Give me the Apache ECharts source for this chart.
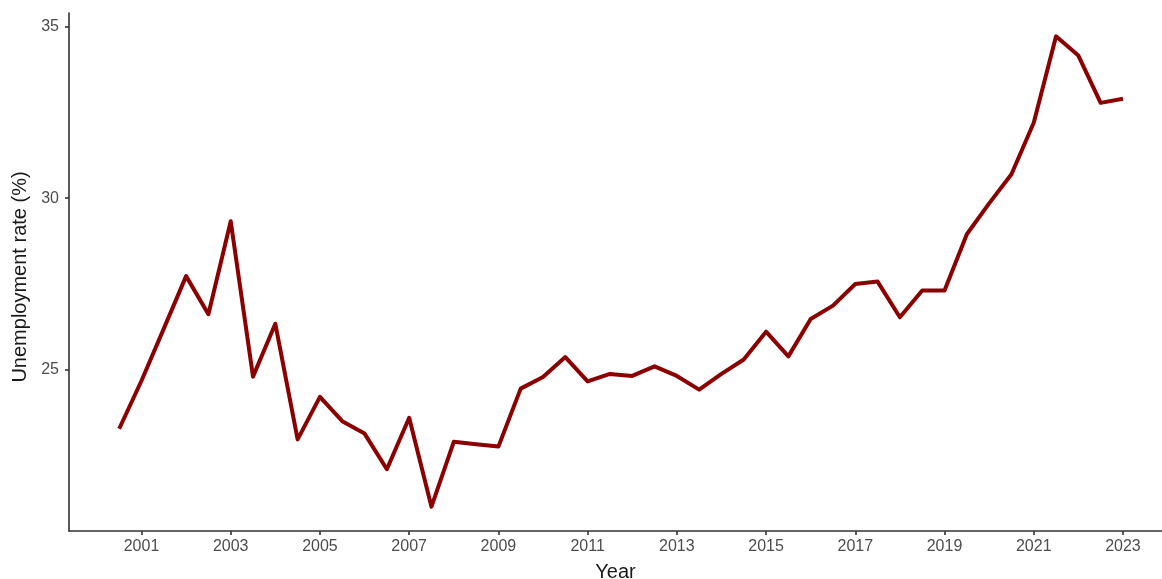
<!DOCTYPE html>
<html>
<head>
<meta charset="utf-8">
<script src="https://cdn.jsdelivr.net/npm/echarts@6/dist/echarts.min.js"></script>
<style>
html,body{margin:0;padding:0;background:#fff;overflow:hidden;}
#chart{width:1162px;height:579px;}
</style>
</head>
<body>
<div id="chart"></div>
<script>
const years = [2000.5,2001,2001.5,2002,2002.5,2003,2003.5,2004,2004.5,2005,2005.5,2006,2006.5,2007,2007.5,2008,2008.5,2009,2009.5,2010,2010.5,2011,2011.5,2012,2012.5,2013,2013.5,2014,2014.5,2015,2015.5,2016,2016.5,2017,2017.5,2018,2018.5,2019,2019.5,2020,2020.5,2021,2021.5,2022,2022.5,2023];
const rates = [23.28,24.68,26.2,27.73,26.62,29.33,24.8,26.34,22.97,24.21,23.5,23.14,22.1,23.6,21.01,22.9,22.83,22.76,24.45,24.79,25.37,24.66,24.88,24.82,25.1,24.82,24.42,24.88,25.3,26.11,25.39,26.48,26.87,27.5,27.57,26.53,27.31,27.31,28.95,29.85,30.7,32.2,34.72,34.16,32.78,32.9];
const xTicks = [2001,2003,2005,2007,2009,2011,2013,2015,2017,2019,2021,2023];
const yTicks = [25,30,35];

const chart = echarts.init(document.getElementById('chart'), null, {renderer:'canvas'});
const axisLineStyle = {color:'#333333', width:1.6};
chart.setOption({
  animation:false,
  backgroundColor:'#ffffff',
  grid:{left:69, right:0, top:13, bottom:48, containLabel:false, outerBoundsMode:'none'},
  xAxis:{
    type:'value', min:1999.375, max:2023.875,
    name:'Year', nameLocation:'middle', nameGap:31,
    nameTextStyle:{fontFamily:'Liberation Sans', fontSize:20, color:'#1a1a1a'},
    axisLine:{show:true, lineStyle:axisLineStyle},
    axisTick:{show:true, length:4, lineStyle:axisLineStyle, customValues:xTicks},
    axisLabel:{fontFamily:'Liberation Sans', fontSize:16, color:'#4d4d4d', margin:8, customValues:xTicks, formatter: v => String(v)},
    splitLine:{show:false}
  },
  yAxis:{
    type:'value', min:20.3, max:35.4,
    name:'Unemployment rate (%)', nameLocation:'middle', nameGap:34,
    nameTextStyle:{fontFamily:'Liberation Sans', fontSize:20, color:'#1a1a1a', padding:[0,10,0,0]},
    axisLine:{show:true, lineStyle:axisLineStyle},
    axisTick:{show:true, length:4, lineStyle:axisLineStyle, customValues:yTicks},
    axisLabel:{fontFamily:'Liberation Sans', fontSize:16, color:'#4d4d4d', margin:10, customValues:yTicks},
    splitLine:{show:false}
  },
  series:[{
    type:'line',
    data: years.map((y,i)=>[y, rates[i]]),
    showSymbol:false,
    lineStyle:{color:'#8b0000', width:4, join:'round'},
    itemStyle:{color:'#8b0000'}
  }]
});
</script>
</body>
</html>
